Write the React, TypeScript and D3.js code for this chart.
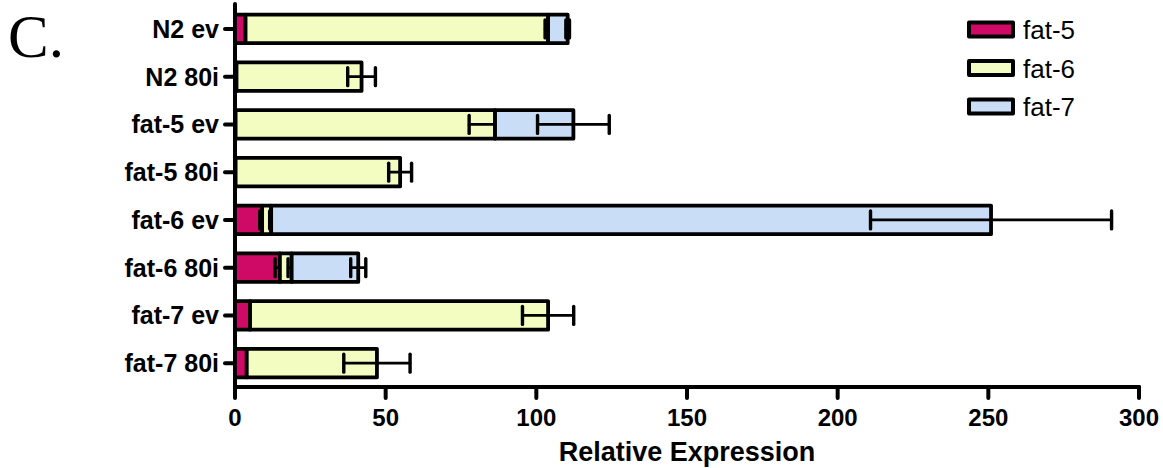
import React from "react";
import * as d3 from "d3";

const categories = ["N2 ev", "N2 80i", "fat-5 ev", "fat-5 80i", "fat-6 ev", "fat-6 80i", "fat-7 ev", "fat-7 80i"];
const seriesNames = ["fat-5", "fat-6", "fat-7"];
const fat5 = [3.5, 0.5, 0.2, 0.2, 9.0, 14.9, 5.0, 3.9];
const fat5Err = [0, 0, 0, 0, 0.8, 1.6, 0, 0];
const fat6 = [100.4, 41.5, 86.1, 54.6, 3.0, 3.9, 98.9, 43.2];
const fat6Err = [1.0, 4.6, 8.6, 3.8, 0.5, 1.2, 8.5, 11.0];
const fat7 = [6.5, 0, 26.0, 0, 238.9, 22.1, 0, 0];
const fat7Err = [0.6, 0, 11.9, 0, 40.0, 2.5, 0, 0];
const xTicks = [0, 50, 100, 150, 200, 250, 300];
const colors = ["#CF0A66", "#F3FDC2", "#C9DDF6"];

const FONT = "'Liberation Sans', Arial, sans-serif";

export default function App() {
  const W = 1163, H = 468;
  const x = d3.scaleLinear().domain([0, 300]).range([235, 1139]);
  const y = d3.scaleBand<string>().domain(categories).range([5, 387]).paddingInner(0.4).paddingOuter(0.2);
  const values = [fat5, fat6, fat7];
  const errs = [fat5Err, fat6Err, fat7Err];
  const bw = y.bandwidth();
  const capH = 18;

  const rows = categories.map((cat, i) => {
    const y0 = y(cat)!;
    const cy = y0 + bw / 2;
    let acc = 0;
    const items: React.ReactNode[] = [];
    values.forEach((vals, s) => {
      const v = vals[i];
      const start = acc;
      const end = acc + v;
      acc = end;
      if (v <= 0) return;
      items.push(
        <rect key={`r${s}`} x={x(start)} y={y0} width={x(end) - x(start)} height={bw}
          fill={colors[s]} stroke="#000" strokeWidth={3.8} strokeLinejoin="round" />
      );
      const e = errs[s][i];
      if (e > 0) {
        const lo = x(end - e), hi = x(end + e);
        items.push(
          <g key={`e${s}`} stroke="#000" strokeLinecap="round">
            <line x1={lo} x2={hi} y1={cy} y2={cy} strokeWidth={2.6} />
            <line x1={lo} x2={lo} y1={cy - capH / 2} y2={cy + capH / 2} strokeWidth={3.4} />
            <line x1={hi} x2={hi} y1={cy - capH / 2} y2={cy + capH / 2} strokeWidth={3.4} />
          </g>
        );
      }
    });
    return <g key={cat}>{items}</g>;
  });

  return (
    <svg width={W} height={H} style={{ position: "absolute", left: 0, top: 0, background: "#fff" }}>
      <text x={8} y={57} fontFamily="'Liberation Serif', 'Times New Roman', serif" fontSize={61}>C.</text>

      {/* y axis */}
      <line x1={235} x2={235} y1={4} y2={388} stroke="#000" strokeWidth={4} strokeLinecap="round" />
      {categories.map((cat) => {
        const cy = y(cat)! + bw / 2;
        return (
          <g key={cat}>
            <line x1={225} x2={235} y1={cy} y2={cy} stroke="#000" strokeWidth={4} strokeLinecap="round" />
            <text x={219} y={cy + 9} textAnchor="end" fontFamily={FONT} fontWeight="bold" fontSize={25}>{cat}</text>
          </g>
        );
      })}

      {rows}

      {/* x axis */}
      <line x1={235} x2={1139} y1={387} y2={387} stroke="#000" strokeWidth={4} strokeLinecap="round" />
      {xTicks.map((t) => (
        <g key={t}>
          <line x1={x(t)} x2={x(t)} y1={387} y2={398} stroke="#000" strokeWidth={4} strokeLinecap="round" />
          <text x={x(t)} y={426} textAnchor="middle" fontFamily={FONT} fontWeight="bold" fontSize={24}>{t}</text>
        </g>
      ))}
      <text x={(x(0) + x(300)) / 2} y={461} textAnchor="middle" fontFamily={FONT} fontWeight="bold" fontSize={27}>Relative Expression</text>

      {/* legend */}
      {seriesNames.map((name, i) => (
        <g key={name}>
          <rect x={969} y={22.5 + i * 38.5} width={44} height={14} fill={colors[i]} stroke="#000" strokeWidth={4} strokeLinejoin="round" />
          <text x={1023} y={39 + i * 38.5} fontFamily={FONT} fontSize={26}>{name}</text>
        </g>
      ))}
    </svg>
  );
}
